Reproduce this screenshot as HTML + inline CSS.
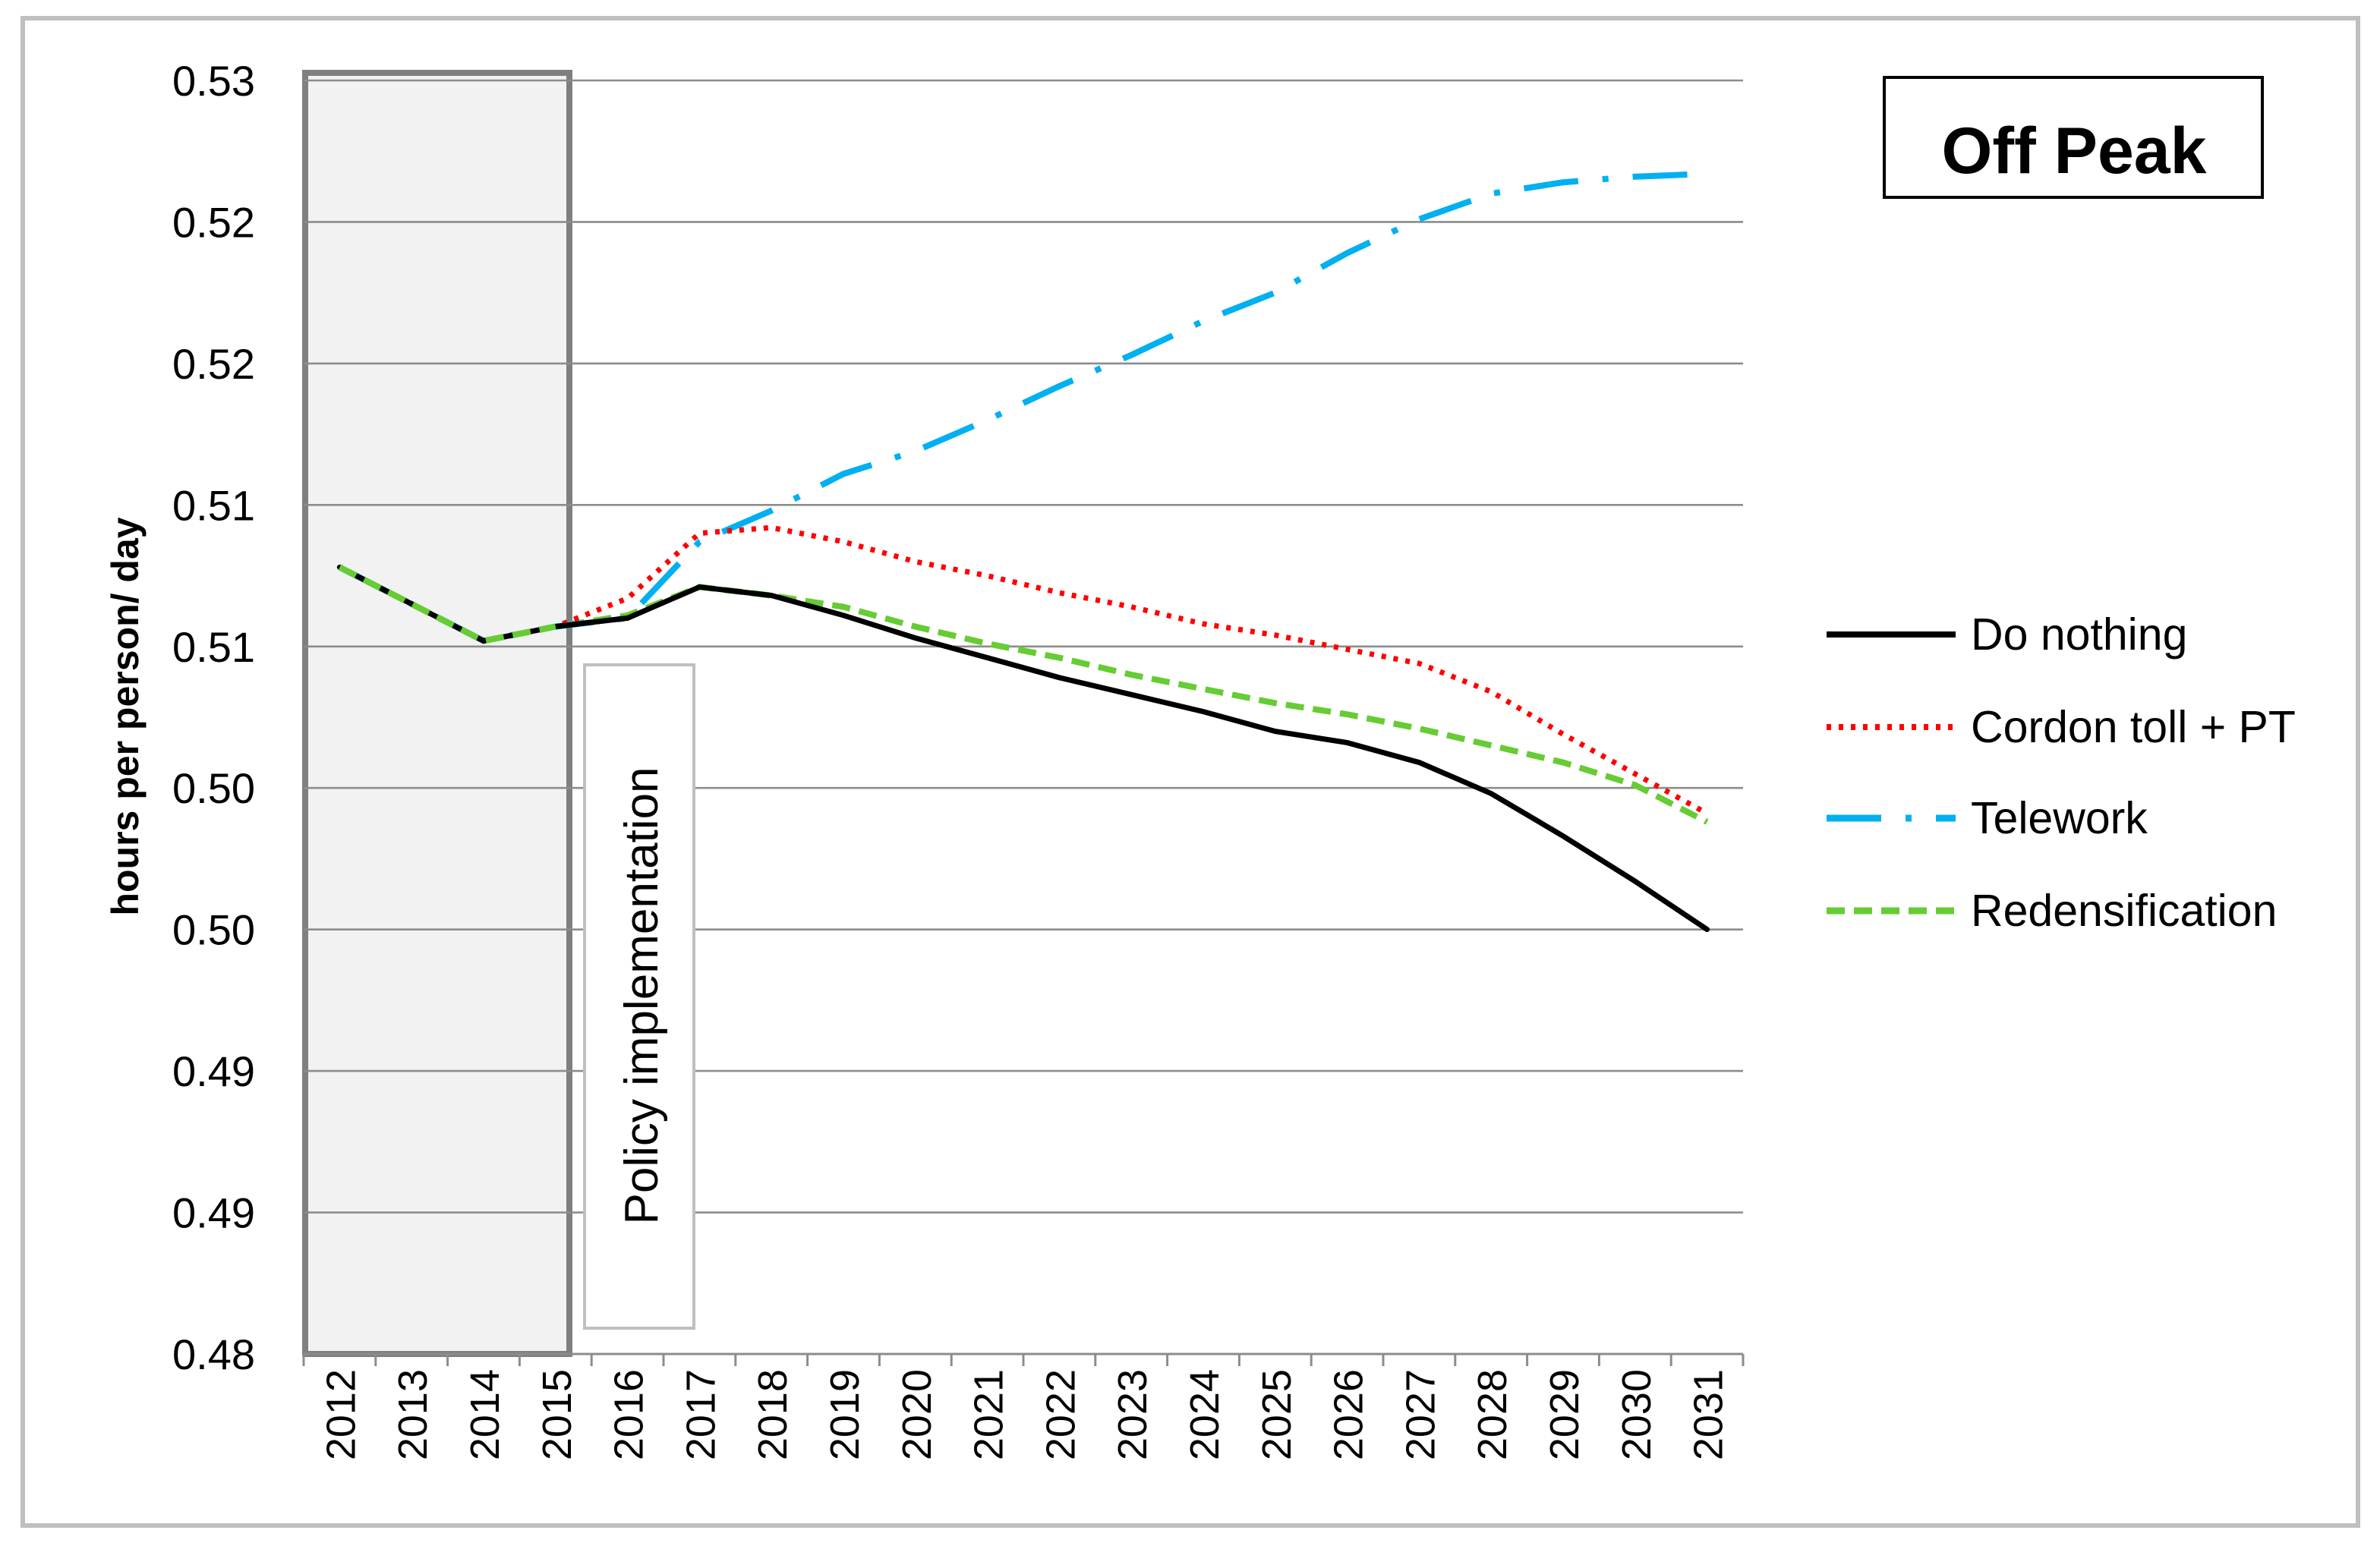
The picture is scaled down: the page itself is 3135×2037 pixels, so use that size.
<!DOCTYPE html>
<html><head><meta charset="utf-8"><style>
html,body{margin:0;padding:0;background:#fff;}
svg{display:block;font-family:"Liberation Sans",sans-serif;}
</style></head><body>
<svg id="chart" width="3135" height="2037" viewBox="0 0 1567.5 1018.5" xmlns="http://www.w3.org/2000/svg">
<rect x="15" y="12" width="1538" height="993" fill="#fff" stroke="#bfbfbf" stroke-width="3"/>
<rect x="201" y="48" width="174" height="844" fill="#f2f2f2" stroke="#7f7f7f" stroke-width="4"/>
<g id="grid"></g>
<rect x="385" y="438" width="72" height="437" fill="#fff" stroke="#bfbfbf" stroke-width="2"/>
<text transform="translate(433,656) rotate(-90)" text-anchor="middle" font-size="31" fill="#000">Policy implementation</text>
<g id="series"></g>
<text transform="translate(91,472) rotate(-90)" text-anchor="middle" font-size="25" font-weight="bold">hours per person/ day</text>
<rect x="1241" y="51" width="249" height="79" fill="#fff" stroke="#000" stroke-width="2"/>
<text x="1366" y="114" text-anchor="middle" font-size="43" font-weight="bold">Off Peak</text>
<g id="legend"></g>
</svg>
<script>
const years=['2012','2013','2014','2015','2016','2017','2018','2019','2020','2021','2022','2023','2024','2025','2026','2027','2028','2029','2030','2031'];
const yTickValues=[0.485,0.49,0.495,0.5,0.505,0.51,0.515,0.52,0.525,0.53];
const yTickLabels=['0.48','0.49','0.49','0.50','0.50','0.51','0.51','0.52','0.52','0.53'];
const doNothing=[0.5128,0.5115,0.5102,0.5107,0.5110,0.5121,0.5118,0.5111,0.5103,0.5096,0.5089,0.5083,0.5077,0.5070,0.5066,0.5059,0.5048,0.5033,0.5017,0.5000];
const cordonToll=[0.5128,0.5115,0.5102,0.5107,0.5117,0.5140,0.5142,0.5137,0.5130,0.5125,0.5119,0.5114,0.5108,0.5104,0.5099,0.5094,0.5084,0.5069,0.5055,0.5041];
const telework=[0.5128,0.5115,0.5102,0.5107,0.5110,0.5137,0.5148,0.5161,0.5169,0.5180,0.5192,0.5203,0.5215,0.5225,0.5239,0.5251,0.5260,0.5264,0.5266,0.5267];
const redensification=[0.5128,0.5115,0.5102,0.5107,0.5111,0.5121,0.5118,0.5114,0.5107,0.5101,0.5096,0.5090,0.5085,0.5080,0.5076,0.5071,0.5065,0.5059,0.5051,0.5038];
const NS='http://www.w3.org/2000/svg';
const X0=200,X1=1148,Y0=892,Y1=53,VMIN=0.485,VMAX=0.53;
const bw=(X1-X0)/years.length;
function xPos(i){return X0+bw*(i+0.5);}
function yPos(v){return Y0-(v-VMIN)/(VMAX-VMIN)*(Y0-Y1);}
function mk(tag,attrs,parent){const e=document.createElementNS(NS,tag);for(const k in attrs)e.setAttribute(k,attrs[k]);parent.appendChild(e);return e;}
const grid=document.getElementById('grid');
yTickValues.forEach((v,i)=>{
  const y=yPos(v);
  if(i>0){const l=mk('line',{x1:X0,x2:X1,y1:y,y2:y,stroke:'#8c8c8c','stroke-width':1.3},grid);
  
  }
  const t=mk('text',{x:168,y:y+10,'text-anchor':'end','font-size':28},grid);
  t.textContent=yTickLabels[i];
  
  
});
const ax=mk('line',{x1:X0,x2:X1,y1:Y0,y2:Y0,stroke:'#8c8c8c','stroke-width':1.5},grid);


for(let i=0;i<=years.length;i++){
  const x=X0+bw*i;
  const tk=mk('line',{x1:x,x2:x,y1:Y0,y2:Y0+8,stroke:'#8c8c8c','stroke-width':1.5},grid);
  
  
}
years.forEach((yr,i)=>{
  const t=mk('text',{transform:`translate(${xPos(i)+10},${Y0+10}) rotate(-90)`,'text-anchor':'end','font-size':27},grid);
  t.textContent=yr;
  
  
});
const series=[
 {name:'Redensification',data:redensification,color:'#66cc33',dash:'12 6',w:4,cap:'butt'},
 {name:'Telework',data:telework,color:'#00b0f0',dash:'36 16 4 16',w:4,cap:'butt'},
 {name:'Cordon toll + PT',data:cordonToll,color:'#ff0000',dash:'3 5',w:3.5,cap:'butt'},
 {name:'Do nothing',data:doNothing,color:'#000',dash:'',w:3.5,cap:'round'}
];
const sg=document.getElementById('series');
series.forEach(s=>{
  const d=s.data.map((v,i)=>(i?'L':'M')+xPos(i).toFixed(1)+','+yPos(v).toFixed(1)).join(' ');
  const p=mk('path',{d:d,fill:'none',stroke:s.color,'stroke-width':s.w,'stroke-dasharray':s.dash,'stroke-linecap':s.cap},sg);
  
  
});
const early=redensification.slice(0,4).map((v,i)=>(i?'L':'M')+xPos(i).toFixed(1)+','+yPos(v).toFixed(1)).join(' ');
const ep=mk('path',{d:early,fill:'none',stroke:'#66cc33','stroke-width':4,'stroke-dasharray':'12 6'},sg);


const lg=document.getElementById('legend');
const order=[series[3],series[2],series[1],series[0]];
const ly=[418,479,539,600];
order.forEach((s,i)=>{
  const g=mk('g',{},lg);
  
  
  mk('line',{x1:1203,x2:1288,y1:ly[i],y2:ly[i],stroke:s.color,'stroke-width':s.w+0.5,'stroke-dasharray':s.dash},g);
  const t=mk('text',{x:1298,y:ly[i]+10,'font-size':29.5},g);
  t.textContent=s.name;
});
</script>
</body></html>
